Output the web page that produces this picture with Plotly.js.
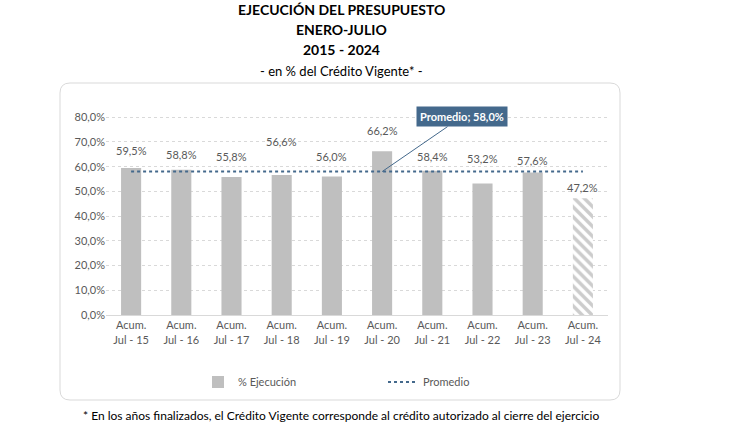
<!DOCTYPE html>
<html><head><meta charset="utf-8">
<script src="https://cdn.plot.ly/plotly-3.0.1.min.js"></script>
<style>html,body{margin:0;padding:0;background:#fff}#c{width:730px;height:427px}</style>
</head><body><div id="c"></div>
<script>
const categories = ["Acum.<br>Jul - 15","Acum.<br>Jul - 16","Acum.<br>Jul - 17","Acum.<br>Jul - 18","Acum.<br>Jul - 19","Acum.<br>Jul - 20","Acum.<br>Jul - 21","Acum.<br>Jul - 22","Acum.<br>Jul - 23","Acum.<br>Jul - 24"];
const ejecucion = [59.5, 58.8, 55.8, 56.6, 56.0, 66.2, 58.4, 53.2, 57.6, 47.2];
const promedio = 58.0;
const labels = ["59,5%","58,8%","55,8%","56,6%","56,0%","66,2%","58,4%","53,2%","57,6%","47,2%"];
const yTicks = [0,10,20,30,40,50,60,70,80];
const yTickText = ["0,0%","10,0%","20,0%","30,0%","40,0%","50,0%","60,0%","70,0%","80,0%"];

// label pixel shifts (style only)
const labelShift = [9, 7, 12, 25, 12, 12, 6, 16, 4, 2];

const W=730,H=427, L=106, R=608, T=116, B=315;
const px=x=>(x-L)/(R-L), py=y=>(B-y)/(B-T);
const FONT="Lato, 'Open Sans', sans-serif";
const GRAY="#595959", BLUE="#44698C";
const last = ejecucion.length-1;

const traces = [
  {type:"bar", x:categories.slice(0,last), y:ejecucion.slice(0,last), name:"% Ejecución", width:0.4,
   marker:{color:"#BFBFBF", line:{width:0}}, hoverinfo:"skip"},
  {type:"bar", x:[categories[last]], y:[ejecucion[last]], name:"% Ejecución", width:0.4, showlegend:false,
   marker:{color:"#ffffff", line:{width:0},
     pattern:{shape:"\\", fgcolor:"#9A9A9A", bgcolor:"#ffffff", size:7, solidity:0.5, fillmode:"overlay"}},
   hoverinfo:"skip"},
  {type:"scatter", mode:"lines", x:[categories[0], categories[last]], y:[promedio,promedio],
   name:"Promedio", line:{color:BLUE, width:2, dash:"dot"}, hoverinfo:"skip"}
];

const x0=px(60), x1=px(620), y0=py(400), y1=py(83);
const rx=10/(R-L), ry=10/(B-T);
const path=`M ${x0+rx},${y1} L ${x1-rx},${y1} Q ${x1},${y1} ${x1},${y1-ry} L ${x1},${y0+ry} Q ${x1},${y0} ${x1-rx},${y0} L ${x0+rx},${y0} Q ${x0},${y0} ${x0},${y0+ry} L ${x0},${y1-ry} Q ${x0},${y1} ${x0+rx},${y1} Z`;

const annotations = [];
ejecucion.forEach((v,i)=>annotations.push({x:categories[i], y:v, xref:"x", yref:"y", text:labels[i],
  showarrow:false, yanchor:"bottom", yshift:labelShift[i], font:{family:FONT, size:11, color:GRAY}}));
const ttl=(y,t,s)=>({xref:"paper", yref:"paper", x:px(341), y:py(y), xanchor:"center", yanchor:"middle", text:t, showarrow:false, borderpad:0, font:{family:FONT,size:s,color:"#000"}});
annotations.push(
  ttl(10,"<b>EJECUCIÓN DEL PRESUPUESTO</b>",14),
  ttl(29,"<b>ENERO-JULIO</b>",14),
  ttl(49,"<b>2015 - 2024</b>",14),
  ttl(71,"- en % del Crédito Vigente* -",13),
  ttl(415,"* En los años finalizados, el Crédito Vigente corresponde al crédito autorizado al cierre del ejercicio",12),
  {x:categories[5], y:promedio, xref:"x", yref:"y", text:"<b>Promedio; 58,0%</b>", showarrow:true, arrowhead:0, arrowwidth:1, arrowcolor:BLUE,
   ax:80, ay:-55, bgcolor:BLUE, borderpad:3, font:{family:FONT,size:11,color:"#fff"}}
);

const layout = {
  width:W, height:H, margin:{l:L, r:W-R, t:T, b:H-B}, paper_bgcolor:"#fff", plot_bgcolor:"#fff",
  font:{family:FONT, color:GRAY, size:11},
  showlegend:true, barmode:"overlay",
  legend:{orientation:"h", x:px(198), y:py(382), xanchor:"left", yanchor:"middle", font:{family:FONT,size:11,color:GRAY}, itemwidth:30, entrywidth:140, traceorder:"normal"},
  xaxis:{type:"category", showgrid:false, showline:true, linecolor:"#D9D9D9", linewidth:1, ticks:"", tickfont:{family:FONT,size:11,color:GRAY}, fixedrange:true},
  yaxis:{range:[0,80.5], tickvals:yTicks, ticktext:yTickText, showgrid:true, gridcolor:"#D9D9D9", griddash:"dot", gridwidth:1,
    zeroline:false, showline:false, ticks:"", tickfont:{family:FONT,size:11,color:GRAY}, fixedrange:true},
  shapes:[{type:"path", xref:"paper", yref:"paper", path:path, line:{color:"#D9D9D9", width:1}, fillcolor:"rgba(0,0,0,0)", layer:"below"}],
  annotations:annotations
};
Plotly.newPlot("c", traces, layout, {displayModeBar:false, staticPlot:true});
</script></body></html>
